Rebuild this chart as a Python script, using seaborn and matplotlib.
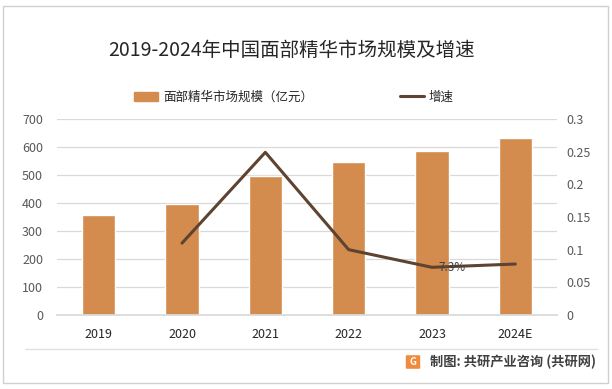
import numpy as np
import pandas as pd
import matplotlib
matplotlib.use("Agg")
import matplotlib.pyplot as plt
import seaborn as sns
from matplotlib.patches import Rectangle, FancyBboxPatch
from matplotlib.lines import Line2D

# Data
years = ['2019', '2020', '2021', '2022', '2023', '2024E']
market_size = [357, 398, 497, 547, 586, 632]          # 亿元
growth = [np.nan, 0.11, 0.249, 0.10, 0.073, 0.078]     # 增速
growth_label_year = '2023'
growth_label_text = '7.3%'

BAR_COLOR = '#D38C4E'
LINE_COLOR = '#5E4330'
GRID_COLOR = '#D9D9D9'

sns.set_theme(style="white")
plt.rcParams['font.family'] = ['Noto Sans CJK SC', 'DejaVu Sans']

df = pd.DataFrame({'year': years, 'size': market_size, 'growth': growth})
df['pos'] = np.arange(len(years))

fig = plt.figure(figsize=(6.12, 3.89), dpi=100)
W, H = 612, 389
ax = fig.add_axes([57 / W, 1 - 315 / H, 500 / W, 196 / H])

sns.barplot(data=df, x='pos', y='size', color=BAR_COLOR, width=0.4,
            saturation=1, ax=ax, native_scale=False)
ax.set_ylim(0, 700)
ax.set_yticks(range(0, 701, 100))
ax.set_xlim(-0.5, len(years) - 0.5)
ax.set_xticks(range(len(years)))
ax.set_xticklabels(years)
ax.set_xlabel('')
ax.set_ylabel('')
ax.grid(axis='y', color=GRID_COLOR, linewidth=0.9)
ax.set_axisbelow(True)
for s in ['top', 'right', 'left']:
    ax.spines[s].set_visible(False)
ax.spines['bottom'].set_color(GRID_COLOR)
ax.tick_params(axis='y', length=0, pad=10, labelsize=9, labelcolor='#595959')
ax.tick_params(axis='x', length=0, pad=9, labelsize=9, labelcolor='#262626')

ax2 = ax.twinx()
line_df = df.dropna(subset=['growth'])
sns.lineplot(data=line_df, x='pos', y='growth', color=LINE_COLOR,
             linewidth=2.2, ax=ax2, legend=False)
ax2.set_ylim(0, 0.3)
ax2.set_yticks(np.arange(0, 0.301, 0.05))
ax2.yaxis.set_major_formatter(plt.FuncFormatter(lambda v, p: f'{v:g}'))
ax2.set_xlim(-0.5, len(years) - 0.5)
ax2.set_ylabel('')
ax2.set_xlabel('')
for s in ax2.spines.values():
    s.set_visible(False)
ax2.tick_params(axis='y', length=0, pad=7, labelsize=9, labelcolor='#595959')

# data label, just right of the point
row = df[df['year'] == growth_label_year].iloc[0]
ax2.annotate(growth_label_text, (row['pos'], row['growth']), xytext=(5, 0),
             textcoords='offset points', ha='left', va='center',
             fontsize=8.5, color='#404040')

# title
fig.text(292 / W, 1 - 50 / H, '2019-2024年中国面部精华市场规模及增速',
         ha='center', va='center', fontsize=14, color='#262626')

# legend
handles = [Rectangle((0, 0), 1, 1, color=BAR_COLOR),
           Line2D([0], [0], color=LINE_COLOR, linewidth=2.2)]
fig.legend(handles, ['面部精华市场规模（亿元）', '增速'], loc='center',
           bbox_to_anchor=(294 / W, 1 - 97 / H), ncol=2, frameon=False,
           fontsize=9, handlelength=1.9, handletextpad=0.4, columnspacing=7,
           labelcolor='#262626')

# divider and border
fig.add_artist(Line2D([25 / W, 597 / W], [1 - 349 / H, 1 - 349 / H],
                      color='#E0E0E0', linewidth=1))
fig.add_artist(Rectangle((3 / W, 1 - 383 / H), 605 / W, 377 / H, fill=False,
                         edgecolor='#D0D0D0', linewidth=1))

# source
fig.add_artist(FancyBboxPatch((407 / W, 1 - 368 / H), 12 / W, 12 / H,
                              boxstyle='round,pad=0.002', facecolor='#F08A3C',
                              edgecolor='none'))
fig.text(413 / W, 1 - 362 / H, 'G', ha='center', va='center', fontsize=7,
         color='white', fontweight='bold')
fig.text(430 / W, 1 - 362 / H, '制图: 共研产业咨询 (共研网)', ha='left',
         va='center', fontsize=9.5, color='#404040', fontweight='bold')

fig.savefig('out.png', dpi=100)
